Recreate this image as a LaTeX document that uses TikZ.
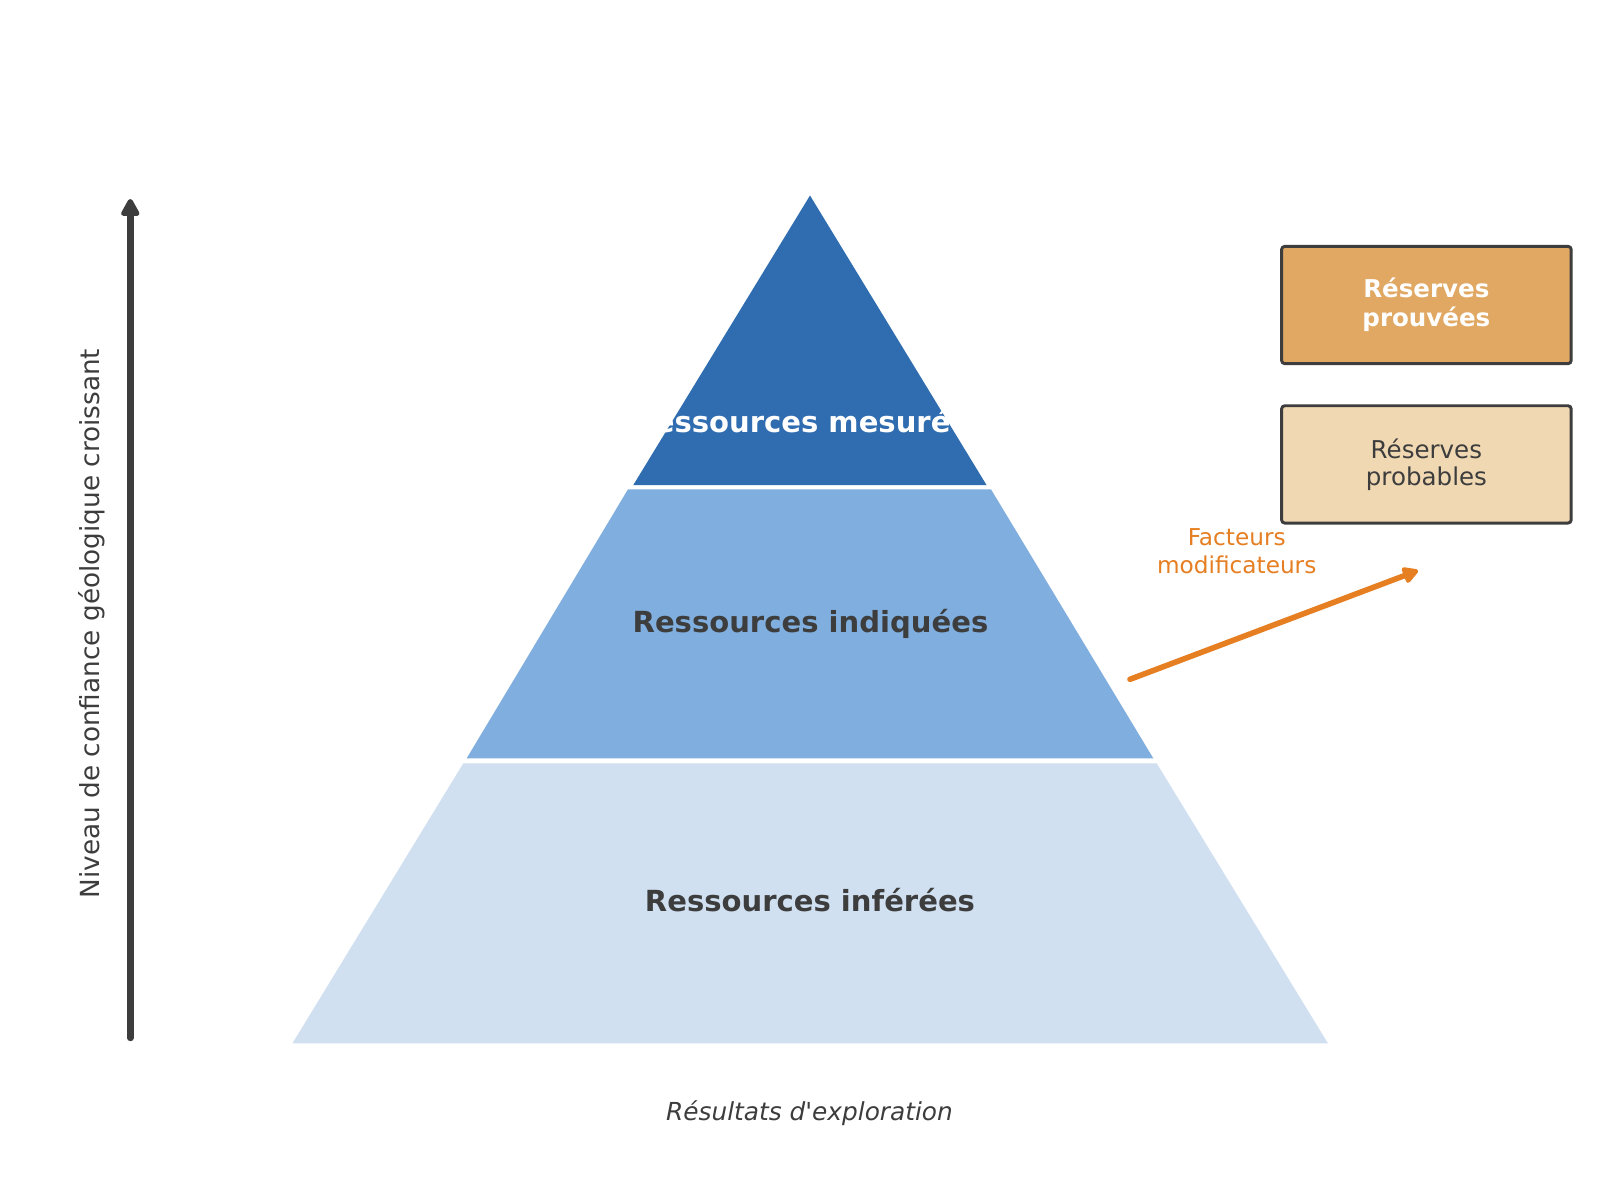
\documentclass[tikz,border=0pt]{standalone}
\usepackage{fontspec}
\setmainfont{DejaVu Sans}
\usetikzlibrary{arrows.meta}
\definecolor{lvltop}{HTML}{2F6CB0}
\definecolor{lvlmid}{HTML}{80AFDF}
\definecolor{lvlbot}{HTML}{D0E0F0}
\definecolor{inkdark}{HTML}{3D3D3D}
\definecolor{provfill}{HTML}{E0A862}
\definecolor{probfill}{HTML}{F0D9B2}
\definecolor{modorange}{HTML}{E67E22}
\begin{document}
\begin{tikzpicture}[x=0.375pt,y=-0.375pt,
  lvllabel/.style={anchor=base, inner sep=0pt, font=\fontsize{10.9pt}{13pt}\selectfont\bfseries},
  resbox/.style={draw=inkdark, line width=1.1pt, rounded corners=1.2pt, minimum width=108.6pt, minimum height=44pt, inner sep=0pt, align=center},
  axisarrow/.style={draw=inkdark, line width=2.4pt, line cap=round, -{Triangle[length=7.5pt,width=7.6pt,round]}},
  modarrow/.style={draw=modorange, line width=2.1pt, line cap=round, -{Triangle[length=6.6pt,width=6.8pt,round]}}
]
\useasboundingbox[fill=white] (0,0) rectangle (1619,1180);

% pyramid levels
\fill[lvlbot] (463.3,763.3) -- (1156.7,763.3) -- (1328,1043.4) -- (292.4,1043.4) -- cycle;
\fill[lvlmid] (628,489.3) -- (991,489.3) -- (1153.3,758.3) -- (466.7,758.3) -- cycle;
\fill[lvltop] (810,195.5) -- (986.5,485) -- (633.3,485) -- cycle;

% level labels
\node[lvllabel, text=white] (mes) at (810,432) {Ressources mesurées};
\node[lvllabel, text=inkdark] (ind) at (810.5,632.3) {Ressources indiquées};
\node[lvllabel, text=inkdark] (inf) at (810,911.5) {Ressources inférées};

% bottom caption
\node[anchor=base, inner sep=0pt, text=inkdark, font=\fontsize{9.3pt}{11pt}\selectfont\itshape] (expl) at (809.5,1120) {Résultats d\textquotesingle exploration};

% vertical axis
\coordinate (axbot) at (130.3,1038);
\coordinate (axtop) at (130.3,199);
\draw[axisarrow] (axbot) -- (axtop);
\node[rotate=90, anchor=base, inner sep=0pt, text=inkdark, font=\fontsize{9.86pt}{12pt}\selectfont] (axlabel) at (100,623.6) {Niveau de confiance géologique croissant};

% reserve boxes
\node[resbox, fill=provfill, text=white, font=\fontsize{9.2pt}{10.9pt}\selectfont\bfseries] (prov) at (1426.4,305) {Réserves\\prouvées};
\node[resbox, fill=probfill, text=inkdark, font=\fontsize{9.2pt}{10pt}\selectfont] (prob) at (1426.4,464.4) {Réserves\\probables};

% modifying factors
\coordinate (mfstart) at (1130,679.3);
\coordinate (mfend) at (1418,570.5);
\draw[modarrow] (mfstart) -- (mfend);
\node[align=center, inner sep=0pt, text=modorange, font=\fontsize{8.7pt}{10.5pt}\selectfont] (mf) at (1236.7,551) {Facteurs\\modificateurs};
\end{tikzpicture}
\end{document}
